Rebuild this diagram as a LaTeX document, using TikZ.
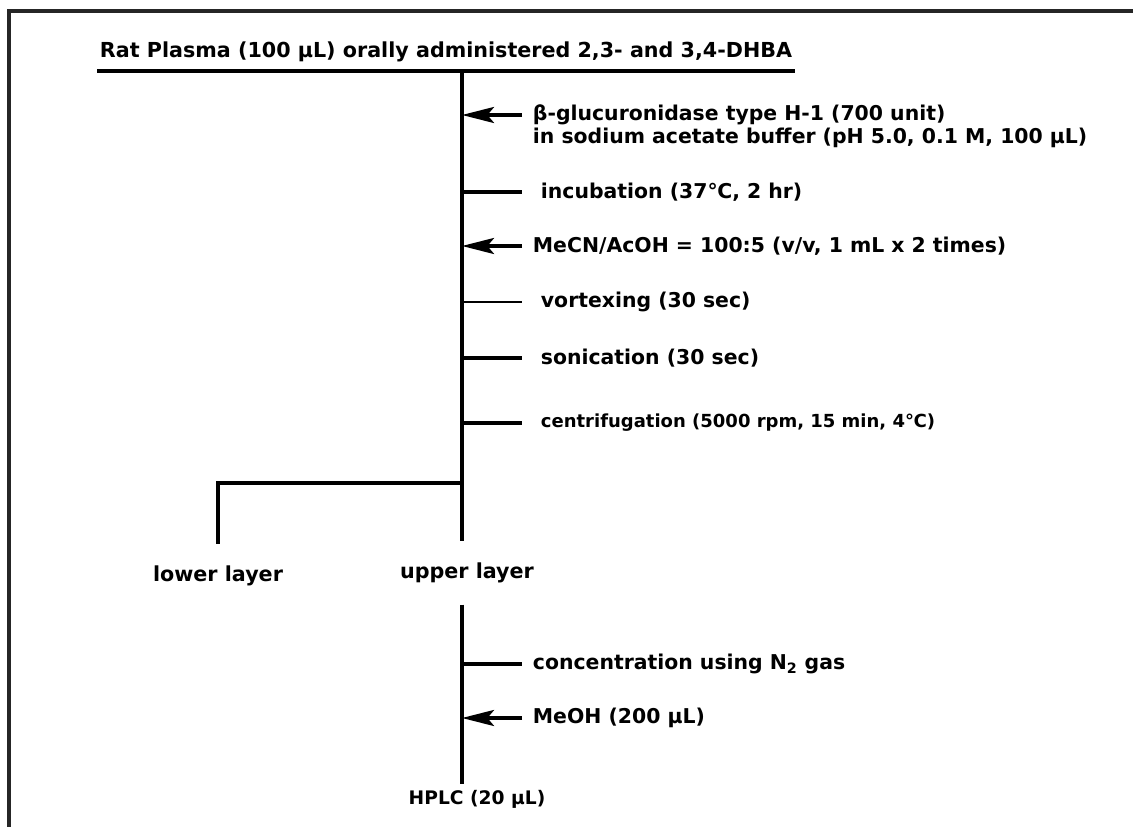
\documentclass[tikz,border=0pt]{standalone}
\usepackage{fontspec}
\setmainfont{DejaVu Sans}
\usetikzlibrary{arrows.meta,positioning}

\tikzset{
  steptext/.style={anchor=west, inner ysep=0pt, inner xsep=8pt, font=\bfseries\fontsize{15.3}{18}\selectfont},
  layertext/.style={inner xsep=0pt, inner ysep=16pt, font=\bfseries\fontsize{15.5}{18}\selectfont},
  spine/.style={line width=2.4pt},
  tick/.style={line width=2.4pt},
  feed/.style={line width=2.8pt, -{Stealth[length=24pt,width=12pt,inset=5pt]}},
}

\begin{document}
\begin{tikzpicture}[x=0.75pt, y=-0.75pt]
  \useasboundingbox (0,0) rectangle (1133,827);
  % frame
  \draw[line width=2.4pt, black!85] (9,827) -- (9,11) -- (1133,11);

  % sample
  \node (title) [minimum width=523pt, inner sep=0pt, font=\bfseries\fontsize{15.5}{18}\selectfont] at (446,52)
    {Rat Plasma (100 μL) orally administered 2,3- and 3,4-DHBA};
  \coordinate (top) at (462,71);
  \draw[spine] (top -| title.west) -- (top -| title.east);

  % steps
  \node (gluc) [steptext] at (522,115) {β-glucuronidase type H-1 (700 unit)};
  \node (buffer) [steptext] at (522,138) {in sodium acetate buffer (pH 5.0, 0.1 M, 100 μL)};
  \node (incub) [steptext, inner xsep=14pt] at (522,192) {incubation (37℃, 2 hr)};
  \node (mecn) [steptext] at (522,246) {MeCN/AcOH = 100:5 (v/v, 1 mL x 2 times)};
  \node (vortex) [steptext, inner xsep=14pt] at (522,302) {vortexing (30 sec)};
  \node (sonic) [steptext, inner xsep=14pt] at (522,358) {sonication (30 sec)};
  \node (centri) [steptext, inner xsep=14pt, font=\bfseries\fontsize{13.5}{16}\selectfont] at (522,423)
    {centrifugation (5000 rpm, 15 min, 4℃)};

  \draw[feed] (gluc.west) -- (gluc.west -| top);
  \draw[tick] (incub.west -| top) -- (incub.west);
  \draw[feed] (mecn.west) -- (mecn.west -| top);
  \draw[line width=1.5pt] (vortex.west -| top) -- (vortex.west);
  \draw[tick] (sonic.west -| top) -- (sonic.west);
  \draw[tick] (centri.west -| top) -- (centri.west);

  % layers
  \coordinate (split) at (462,483);
  \node (lower) [layertext] at (218,576) {lower layer};
  \node (upper) [layertext] at (467,573) {upper layer};
  \draw[spine] (top) -- (split) -- (upper.north -| top);
  \draw[spine] (split) -| (lower.north);

  % upper layer work-up
  \node (conc) [steptext] at (522,664) {concentration using N\textsubscript{2} gas};
  \node (meoh) [steptext] at (522,718) {MeOH (200 μL)};
  \node (hplc) [inner xsep=0pt, inner ysep=4pt, font=\bfseries\fontsize{14}{16}\selectfont] at (477,799) {HPLC (20 μL)};
  \draw[spine] (upper.south -| top) -- (hplc.north -| top);
  \draw[tick] (conc.west -| top) -- (conc.west);
  \draw[feed] (meoh.west) -- (meoh.west -| top);
\end{tikzpicture}
\end{document}
